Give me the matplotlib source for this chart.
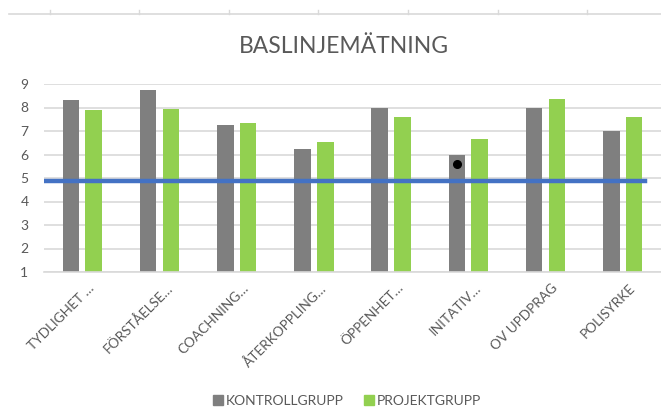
import numpy as np
import matplotlib

matplotlib.use("Agg")
import matplotlib.pyplot as plt
import matplotlib.transforms as mtransforms
from matplotlib.lines import Line2D
from matplotlib.patches import Patch

categories = ["TYDLIGHET …", "FÖRSTÅELSE…", "COACHNING…", "ÅTERKOPPLING…",
              "ÖPPENHET…", "INITATIV…", "OV UPDPRAG", "POLISYRKE"]
kontroll = [8.3, 8.75, 7.27, 6.25, 8.0, 6.0, 8.0, 7.0]
projekt = [7.9, 7.95, 7.33, 6.53, 7.6, 6.65, 8.35, 7.6]
baseline = 4.89
dot_category = 5
dot_value = 5.6
ruler_ticks_px = [50, 139.3, 228.7, 318.3, 407.7, 497.7, 587]

GRAY = "#7F7F7F"
GREEN = "#92D050"
BLUE = "#4472C4"
TEXT = "#595959"
GRID = "#D9D9D9"

plt.rcParams["font.family"] = ["Lato", "DejaVu Sans"]

W, H = 661, 408
fig = plt.figure(figsize=(W / 100, H / 100), dpi=100)
ax = fig.add_axes([43.7 / W, 1 - 272 / H, 617.6 / W, 188 / H])

x = np.arange(len(categories))
off = 0.147
bw = 0.215
ax.bar(x - off, kontroll, bw, bottom=0, color=GRAY, zorder=2)
ax.bar(x + off, projekt, bw, bottom=0, color=GREEN, zorder=2)
ax.axhline(baseline, xmin=0, xmax=0.974, color=BLUE, lw=3.2, zorder=3)
ax.plot([dot_category - off], [dot_value], "o", color="black", ms=5.5, zorder=4)

ax.set_xlim(-0.5, len(categories) - 0.5)
ax.set_ylim(1, 9)
ax.set_yticks(range(1, 10))
ax.grid(axis="y", color=GRID, lw=1.2, zorder=0)
ax.set_axisbelow(True)
for s in ["top", "right", "left"]:
    ax.spines[s].set_visible(False)
ax.spines["bottom"].set_color(GRID)
ax.spines["bottom"].set_linewidth(1.2)
ax.tick_params(axis="y", length=0, pad=11, labelsize=10, labelcolor=TEXT)
ax.tick_params(axis="x", length=0, pad=4, labelsize=9.8, labelcolor=TEXT)
ax.set_xticks(x)
ax.set_xticklabels(categories, rotation=45, ha="right", va="top",
                   rotation_mode="anchor")
shift = mtransforms.ScaledTranslation(6 / 100, -4 / 100, fig.dpi_scale_trans)
for lbl in ax.get_xticklabels():
    lbl.set_transform(lbl.get_transform() + shift)

fig.text(343.5 / W, 1 - 53.3 / H, "BASLINJEMÄTNING", ha="center", va="baseline",
         fontsize=16.5, color=TEXT)

# ruler line at top of the screenshot
ry = 1 - 14.3 / H
fig.add_artist(Line2D([9 / W, 1], [ry, ry], color=GRID, lw=1.2))
for t in ruler_ticks_px:
    fig.add_artist(Line2D([t / W, t / W], [ry, 1 - 10 / H], color=GRID, lw=1))

handles = [Patch(color=GRAY, label="KONTROLLGRUPP"),
           Patch(color=GREEN, label="PROJEKTGRUPP")]
fig.legend(handles=handles, loc="center", bbox_to_anchor=(347 / W, 1 - 400.7 / H),
           ncol=2, frameon=False, fontsize=10, labelcolor=TEXT,
           handlelength=0.7, handleheight=0.7, handletextpad=0.2, columnspacing=1.5)

fig.savefig("out.png", dpi=100)
